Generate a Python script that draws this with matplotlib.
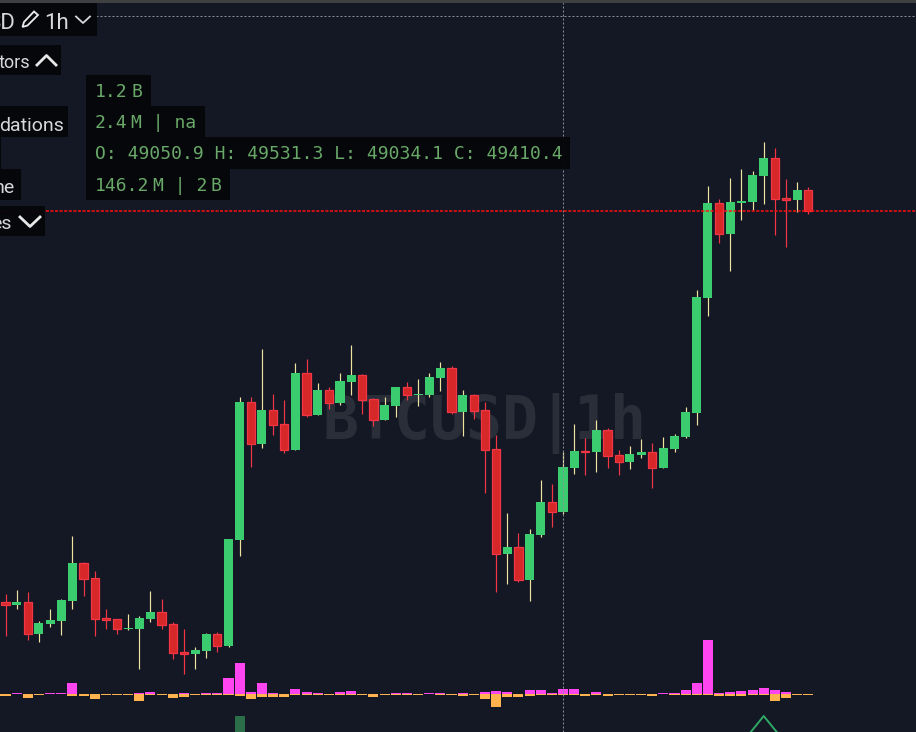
import matplotlib
matplotlib.use("Agg")
import matplotlib.pyplot as plt
from matplotlib.patches import Polygon, Rectangle

# candles (price scale comes from the hover OHLC label)
opens = [48322, 48301, 48322, 48068, 48148, 48172, 48333, 48638, 48518, 48196,
         48188, 48108, 48108, 48188, 48245, 48148, 47923, 47907, 47931, 48068,
         47971, 48823, 49933, 49595, 49869, 49756, 49547, 50166, 49828, 50029,
         49925, 50094, 50150, 49957, 49788, 49901, 50053, 49989, 49989, 50126,
         50206, 49852, 49989, 49869, 49555, 48711, 48767, 48502, 48864, 49129,
         49050.9, 49402, 49539, 49531, 49708, 49507, 49451, 49507, 49531, 49402,
         49555, 49652, 49844, 50769, 51533, 51284, 51533, 51541, 51750, 51895,
         51573, 51557, 51637]
highs = [48389, 48421, 48405, 48172, 48269, 48349, 48855, 48647, 48574, 48269,
         48188, 48229, 48212, 48413, 48349, 48164, 48108, 47963, 48076, 48084,
         48831, 49973, 49973, 50359, 49997, 49949, 50246, 50279, 50086, 50053,
         50166, 50391, 50158, 49965, 49973, 50053, 50094, 50118, 50166, 50255,
         50222, 50029, 49997, 49933, 49668, 49040, 48880, 48912, 49306, 49274,
         49531.3, 49756, 49643, 49788, 49724, 49547, 49579, 49635, 49603, 49652,
         49676, 49893, 50833, 51670, 51565, 51734, 51806, 51790, 52023, 51975,
         51726, 51702, 51662]
lows = [48052, 48269, 48019, 48003, 48124, 48060, 48269, 48373, 48052, 48108,
        48068, 48100, 47786, 48164, 48108, 47867, 47746, 47786, 47875, 47923,
        47963, 48695, 49410, 49563, 49668, 49523, 49547, 49812, 49828, 49877,
        49909, 49989, 49836, 49740, 49788, 49812, 49949, 49901, 49973, 50021,
        49836, 49660, 49796, 49201, 48405, 48470, 48486, 48333, 48848, 48928,
        49034.1, 49354, 49346, 49370, 49402, 49346, 49394, 49483, 49241, 49402,
        49531, 49643, 49748, 50624, 51211, 50986, 51396, 51477, 51525, 51276,
        51179, 51460, 51444]
closes = [48301, 48325, 48070, 48156, 48180, 48341, 48638, 48510, 48188, 48180,
          48108, 48116, 48196, 48245, 48140, 47915, 47907, 47939, 48068, 47971,
          48831, 49933, 49595, 49869, 49748, 49547, 50166, 49828, 50029, 49925,
          50102, 50150, 49949, 49788, 49909, 50053, 49989, 49997, 50134, 50206,
          49852, 49989, 49860, 49547, 48711, 48767, 48502, 48872, 49129, 49049,
          49410.4, 49539, 49531, 49708, 49499, 49451, 49515, 49531, 49402, 49563,
          49660, 49852, 50777, 51533, 51284, 51541, 51549, 51758, 51895, 51565,
          51557, 51637, 51469]

# volume histogram, in millions, up and down from the zero line
vol_up = [0, 30, 0, 0, 30, 30, 330, 0, 0, 0, 0, 0, 30, 60, 0, 0, 30, 0, 30, 30,
          480, 930, 60, 330, 30, 0, 150, 60, 30, 0, 60, 90, 0, 0, 0, 30, 30, 0, 30, 30,
          0, 30, 0, 60, 90, 60, 0, 120, 120, 30, 146, 150, 0, 60, 0, 0, 0, 0, 0, 30,
          30, 120, 330, 1620, 30, 60, 90, 120, 180, 120, 60, 0, 0]
vol_down = [60, 0, 120, 30, 0, 0, 60, 60, 150, 30, 30, 30, 210, 30, 30, 120, 90, 30, 30, 30,
            30, 60, 150, 90, 90, 90, 30, 30, 30, 30, 30, 30, 30, 90, 30, 30, 30, 30, 0, 30,
            30, 60, 30, 150, 390, 90, 90, 60, 30, 30, 30, 30, 60, 30, 60, 30, 30, 30, 60, 0,
            30, 30, 30, 30, 60, 60, 60, 30, 30, 210, 120, 30, 30]

hover_idx = 50
cross_price = 53036
signal_bar_idx = 21

# each label is split where it has the small gap before a unit
info_lines = [["1.2", "B"], ["2.4", "M | na"], ["O: 49050.9 H: 49531.3 L: 49034.1 C: 49410.4"],
              ["146.2", "M | 2", "B"]]
watermark = "BTCUSD|1h"

BG = "#141824"
GREEN = "#3bcc6f"
RED_FILL = "#d62828"
RED_EDGE = "#f23645"
WICK_UP = "#efe3a0"
BOX = "#050709"

W, H = 916, 732
fig = plt.figure(figsize=(W / 100, H / 100), dpi=100, facecolor=BG)

# index -> pixel: first candle at x=5.5, 11.15 px per candle
xlim = (-5.5 / 11.15, (W - 5.5) / 11.15)

ax_vol = fig.add_axes([0, 0, 1, 1], zorder=1, facecolor=BG)
ax = fig.add_axes([0, 0, 1, 1], zorder=2)
ax.patch.set_visible(False)
ui = fig.add_axes([0, 0, 1, 1], zorder=3)
ui.patch.set_visible(False)

ax.set_xlim(*xlim)
ax.set_ylim(53165 - 8.04 * H, 53165)
ax_vol.set_xlim(*xlim)
ax_vol.set_ylim(-(H - 694) * 30, 694 * 30)
ui.set_xlim(0, W)
ui.set_ylim(H, 0)
for a in (ax, ax_vol, ui):
    a.axis("off")

# watermark under everything
ax_vol.text(484, H - 439, watermark, transform=None, ha="center", va="baseline",
            family="DejaVu Sans Mono", weight="bold", fontsize=43, color="#2a2e39", zorder=0)

# volume
xs = list(range(len(opens)))
ax_vol.bar(xs, vol_up, width=0.9, color="#ff45f0", linewidth=0, zorder=2)
ax_vol.bar(xs, [-v for v in vol_down], width=0.9, color="#ffb34f", linewidth=0, zorder=3)
ax_vol.bar([signal_bar_idx], [-480], bottom=-660, width=0.9, color="#2a6e4a", linewidth=0, zorder=2)

# candles
for i in xs:
    up = closes[i] >= opens[i]
    wick = WICK_UP if up else RED_EDGE
    ax.vlines(i, lows[i], highs[i], color=wick, linewidth=0.85, zorder=2)
    bottom = min(opens[i], closes[i])
    height = abs(closes[i] - opens[i])
    if up:
        ax.bar(i, height, bottom=bottom, width=0.81, color=GREEN, linewidth=0, zorder=3)
    else:
        ax.bar(i, height, bottom=bottom, width=0.74, color=RED_FILL, edgecolor=RED_EDGE,
               linewidth=0.9, zorder=3)

# crosshair and last price line
ax.axvline(hover_idx, color="#8a8e98", linewidth=0.72, linestyle=(0, (2, 2)), zorder=4)
ax.axhline(cross_price, color="#8a8e98", linewidth=0.72, linestyle=(0, (2, 2)), zorder=4)
ax.hlines(closes[-1], *xlim, colors="#ff1010", linewidth=1.1, linestyles=(0, (2, 1)), zorder=5)

# signal triangle, cut by the bottom edge
ui.plot([750, 763.7, 777.5], [733, 716, 733], color="#2fa866", linewidth=1.4, zorder=1)

# top strip
ui.add_patch(Rectangle((0, 0), W, 3, color="#3f4042", linewidth=0, zorder=1))

# black label boxes
boxes = [(0, 3.3, 97, 32.4), (0, 45, 61, 30), (0, 106, 68, 31), (0, 137, 1, 32),
         (0, 169, 21, 31), (0, 206, 45, 30),
         (86, 75, 65, 31), (86, 106, 119, 31), (86, 137, 484, 32), (86, 169, 144, 31)]
for x, y, w, h in boxes:
    ui.add_patch(Rectangle((x, y), w, h, color=BOX, alpha=0.96, linewidth=0, zorder=2))

# left menu, its words run off the edge in the original too
for txt, x, y, size in [("SD", 15.5, 29, 16), ("1h", 68.5, 29, 16), ("tors", 30, 68, 13),
                        ("dations", 64, 130.7, 14), ("ne", 15, 193, 14), ("es", 12, 229, 14)]:
    ui.text(x, y, txt, ha="right", va="baseline", family="Roboto", fontsize=size,
            color="#d6d8da", zorder=3)

# pencil icon
ui.add_patch(Polygon([(22.5, 27), (24, 22), (34, 11.5), (38, 15), (27.5, 25.5)], closed=True,
                     fill=False, edgecolor="#ececec", linewidth=1.3, zorder=3))

# chevrons
ui.plot([76, 83, 90], [16.5, 23, 16.5], color="#d6d8da", linewidth=1.3, zorder=3)
ui.plot([37, 46.5, 56], [65, 55.5, 65], color="#e8e8e8", linewidth=2, zorder=3)
ui.plot([20, 30, 40], [217, 226.5, 217], color="#e8e8e8", linewidth=2, zorder=3)

# hover info, glyph advance 10.87 px plus a small gap between pieces
for pieces, y in zip(info_lines, [96.7, 128.3, 159.3, 191]):
    x = 95
    for piece in pieces:
        ui.text(x, y, piece, ha="left", va="baseline", family="DejaVu Sans Mono",
                fontsize=13, color="#69a869", zorder=3)
        x += len(piece) * 10.87 + 3.5

fig.savefig("out.png", dpi=100, facecolor=BG)
